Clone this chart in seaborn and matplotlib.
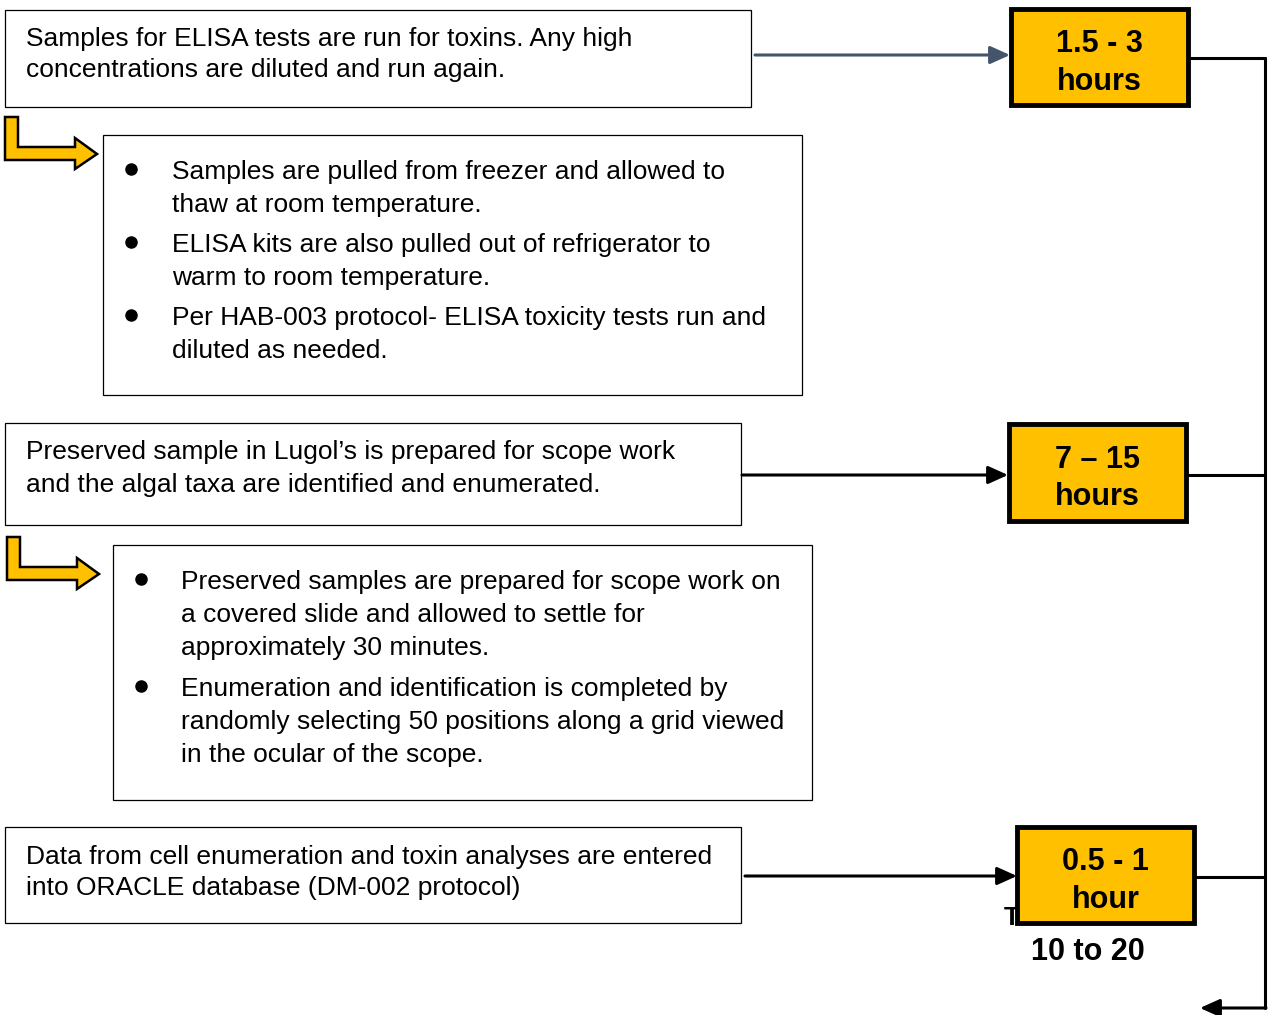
import matplotlib
matplotlib.use("Agg")
import matplotlib.pyplot as plt
import matplotlib.patches as mpatches
import seaborn as sns

# flowchart content
step_texts = [
    "Samples for ELISA tests are run for toxins. Any high\nconcentrations are diluted and run again.",
    "Preserved sample in Lugol\u2019s is prepared for scope work\nand the algal taxa are identified and enumerated.",
    "Data from cell enumeration and toxin analyses are entered\ninto ORACLE database (DM-002 protocol)",
]
detail_bullets = [
    ["Samples are pulled from freezer and allowed to\nthaw at room temperature.",
     "ELISA kits are also pulled out of refrigerator to\nwarm to room temperature.",
     "Per HAB-003 protocol- ELISA toxicity tests run and\ndiluted as needed."],
    ["Preserved samples are prepared for scope work on\na covered slide and allowed to settle for\napproximately 30 minutes.",
     "Enumeration and identification is completed by\nrandomly selecting 50 positions along a grid viewed\nin the ocular of the scope."],
]
durations = ["1.5 - 3\nhours", "7 \u2013 15\nhours", "0.5 - 1\nhour"]
total_label = "Total time:"
total_value = "10 to 20"

sns.set_theme(style="white")
plt.rcParams['font.family'] = ['Liberation Sans', 'DejaVu Sans']

fig = plt.figure(figsize=(12.73, 10.15), dpi=100)
ax = fig.add_axes([0, 0, 1, 1])
ax.set_xlim(0, 1273)
ax.set_ylim(1015, 0)
ax.axis("off")

FS = 19
BFS = 22
YEL = "#FFC000"

# step boxes (x0, y0, x1, y1)
step_boxes = [(5, 10, 751, 107), (5, 423, 741, 525), (5, 827, 741, 923)]
step_line_y = [(37, 68), (450, 483), (855, 886)]
for (x0, y0, x1, y1), txt, ly in zip(step_boxes, step_texts, step_line_y):
    ax.add_patch(mpatches.Rectangle((x0, y0), x1 - x0, y1 - y0, fill=False,
                                    ec="black", lw=0.9, zorder=2))
    for line, y in zip(txt.split("\n"), ly):
        ax.text(26, y + 2, line, fontsize=FS, va="center", ha="left", color="black")

# detail boxes with bullets
detail_boxes = [(103, 135, 802, 395), (113, 545, 812, 800)]
detail_line_y = [[(170, 203), (243, 276), (316, 349)],
                 [(580, 613, 646), (687, 720, 753)]]
bullet_x = [131, 141]
text_x = [172, 181]
for (x0, y0, x1, y1), items, lys, bx, tx in zip(detail_boxes, detail_bullets,
                                                 detail_line_y, bullet_x, text_x):
    ax.add_patch(mpatches.Rectangle((x0, y0), x1 - x0, y1 - y0, fill=False,
                                    ec="black", lw=0.9, zorder=2))
    for item, ys in zip(items, lys):
        ax.plot(bx, ys[0] - 1, "o", ms=8, color="black", zorder=3)
        for line, y in zip(item.split("\n"), ys):
            ax.text(tx, y + 2, line, fontsize=FS, va="center", ha="left", color="black")

# bent yellow arrows
def bent_arrow(x, y):
    pts = [(x, y), (x + 13, y), (x + 13, y + 30), (x + 70, y + 30), (x + 70, y + 21),
           (x + 92, y + 37), (x + 70, y + 52), (x + 70, y + 43), (x, y + 43), (x, y)]
    ax.add_patch(mpatches.Polygon(pts, closed=True, fc=YEL, ec="black", lw=1.8,
                                  joinstyle="miter", zorder=3))

bent_arrow(5, 117)
bent_arrow(7, 537)

# duration boxes
dur_boxes = [(1011, 9, 1188, 105), (1009, 424, 1186, 521), (1017, 827, 1194, 923)]
# partly hidden total label behind last box
ax.text(1004, 925, total_label, fontsize=19, fontweight="bold", ha="left",
        va="baseline", color="black", zorder=1)
for (x0, y0, x1, y1), txt in zip(dur_boxes, durations):
    ax.add_patch(mpatches.Rectangle((x0, y0), x1 - x0, y1 - y0, fc=YEL,
                                    ec="black", lw=3.5, zorder=4))
    ax.text((x0 + x1) / 2, (y0 + y1) / 2 + 6, txt, fontsize=BFS, fontweight="bold",
            ha="center", va="center", linespacing=1.32, color="black", zorder=5)
ax.text(1088, 952, total_value, fontsize=BFS, fontweight="bold", ha="center",
        va="center", color="black")

# arrows from steps to durations
arrow_specs = [(755, 1010, 55, "#44546A"), (742, 1008, 475, "black"), (745, 1017, 876, "black")]
for xs, xe, y, c in arrow_specs:
    ax.annotate("", xy=(xe, y), xytext=(xs, y),
                arrowprops=dict(arrowstyle="-|>,head_length=1.0,head_width=0.45",
                                color=c, lw=2.2, shrinkA=0, shrinkB=0), zorder=3)

# right side collector line
XR = 1265
for (x0, y0, x1, y1), y in zip(dur_boxes, [58, 475, 877]):
    ax.plot([x1, XR], [y, y], color="black", lw=2.2, zorder=3)
ax.plot([XR, XR], [58, 1008], color="black", lw=2.2, zorder=3)
ax.annotate("", xy=(1200, 1008), xytext=(XR + 1, 1008),
            arrowprops=dict(arrowstyle="-|>,head_length=1.0,head_width=0.45",
                            color="black", lw=2.2, shrinkA=0, shrinkB=0), zorder=3)

fig.savefig("out.png", dpi=100)
